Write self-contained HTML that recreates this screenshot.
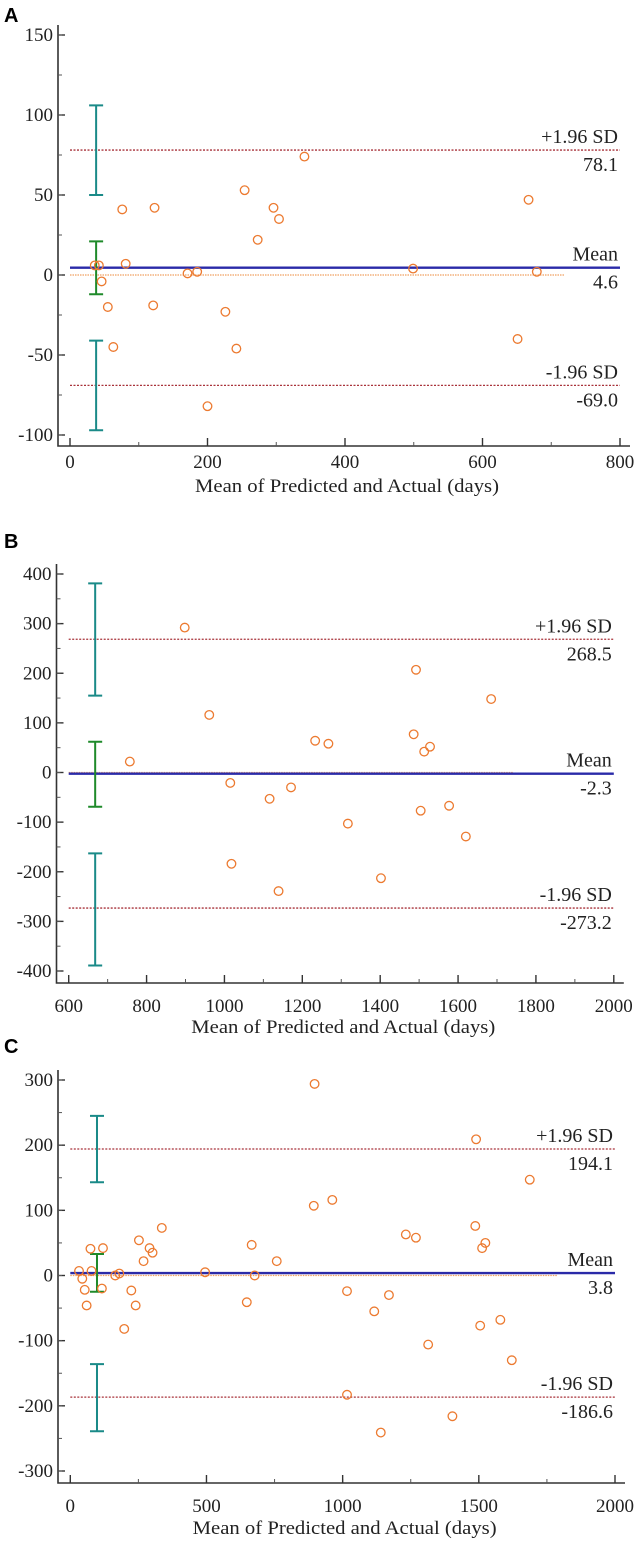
<!DOCTYPE html>
<html><head><meta charset="utf-8"><style>
html,body{margin:0;padding:0;background:#fff;}
svg{display:block;}
text{font-family:"Liberation Serif",serif;fill:#222;}
.pl{font-family:"Liberation Sans",sans-serif;font-weight:bold;fill:#000;}
</style></head><body>
<svg id="chart" width="640" height="1550" viewBox="0 0 640 1550" xmlns="http://www.w3.org/2000/svg"></svg>
<script>
// Panel A data
const aX=[36,42,46,55,63,76,81,121,123,171,185,200,226,242,254,273,296,304,341,499,651,667,679];
const aY=[6,6,-4,-20,-45,41,7,-19,42,1,2,-82,-23,-46,53,22,42,35,74,4,-40,47,2];
const aStats=[4.6,78.1,-69.0];
const aCI=[[50,106],[-12,21],[-97,-41]];
const aXTicks=[0,200,400,600,800];
const aYTicks=[150,100,50,0,-50,-100];
// Panel B data
const bX=[757,898,961,1015,1018,1116,1139,1171,1233,1267,1317,1402,1486,1492,1504,1513,1528,1577,1620,1685];
const bY=[22,292,116,-21,-184,-53,-239,-30,64,58,-103,-213,77,207,-77,42,52,-67,-129,148];
const bStats=[-2.3,268.5,-273.2];
const bCI=[[155,381],[-69,62],[-389,-163]];
const bXTicks=[600,800,1000,1200,1400,1600,1800,2000];
const bYTicks=[400,300,200,100,0,-100,-200,-300,-400];
// Panel C data
const cX=[32,44,53,60,74,78,116,120,165,180,198,224,240,252,269,291,302,336,495,648,666,677,758,894,897,962,1016,1016,1116,1140,1170,1232,1269,1314,1403,1487,1490,1505,1512,1524,1579,1621,1687];
const cY=[7,-5,-22,-46,41,7,-20,42,0,3,-82,-23,-46,54,22,42,35,73,5,-41,47,0,22,107,294,116,-24,-183,-55,-241,-30,63,58,-106,-216,76,209,-77,42,50,-68,-130,147];
const cStats=[3.8,194.1,-186.6];
const cCI=[[143,245],[-25,33],[-239,-136]];
const cXTicks=[0,500,1000,1500,2000];
const cYTicks=[300,200,100,0,-100,-200,-300];

const NS="http://www.w3.org/2000/svg";
const svg=document.getElementById('chart');
function mk(tag,at,parent){const e=document.createElementNS(NS,tag);for(const k in at)e.setAttribute(k,at[k]);(parent||svg).appendChild(e);return e;}

const panels=[
 {letter:'A',ly:22,xs:aX,ys:aY,st:aStats,ci:aCI,xt:aXTicks,yt:aYTicks,
  x0:0,x1:800,px0:70,px1:620,y0v:150,y1v:-100,py0:35,py1:435,axL:58,axT:25,axB:446,
  minorX:100,minorY:25,ciX:38,zeroEnd:720,tickY:462,titleY:492},
 {letter:'B',ly:548,xs:bX,ys:bY,st:bStats,ci:bCI,xt:bXTicks,yt:bYTicks,
  x0:600,x1:2000,px0:68.7,px1:613.8,y0v:400,y1v:-400,py0:574,py1:971,axL:56.5,axT:564,axB:983,
  minorX:100,minorY:50,ciX:668,zeroEnd:1741,tickY:1006,titleY:1033},
 {letter:'C',ly:1053,xs:cX,ys:cY,st:cStats,ci:cCI,xt:cXTicks,yt:cYTicks,
  x0:0,x1:2000,px0:70.3,px1:615,y0v:300,y1v:-300,py0:1080,py1:1471,axL:58,axT:1070,axB:1483,
  minorX:250,minorY:50,ciX:98,zeroEnd:1790,tickY:1506,titleY:1534}
];

panels.forEach(p=>{
  const g=mk('g',{});
  
  
  const sx=v=>p.px0+(v-p.x0)/(p.x1-p.x0)*(p.px1-p.px0);
  const sy=v=>p.py0+(p.y0v-v)/(p.y0v-p.y1v)*(p.py1-p.py0);
  const L=mk('text',{x:4,y:p.ly,'font-size':20,class:'pl'},g);L.textContent=p.letter;
  
  
  const ax=mk('path',{d:`M${p.axL},${p.axT}V${p.axB}H${p.px1+10}`,stroke:'#333','stroke-width':1.6,fill:'none'},g);
  
  
  p.yt.forEach(v=>{
    const y=sy(v);
    mk('line',{x1:p.axL,x2:p.axL+7,y1:y,y2:y,stroke:'#333','stroke-width':1.4},g);
    const t=mk('text',{x:p.axL-5,y:y+6,'font-size':19,'text-anchor':'end'},g);t.textContent=v;
    
    
  });
  for(let v=p.y1v;v<=p.y0v;v+=p.minorY){const y=sy(v);mk('line',{x1:p.axL,x2:p.axL+4,y1:y,y2:y,stroke:'#555','stroke-width':1},g);}
  for(let v=p.x0;v<=p.x1;v+=p.minorX){const x=sx(v);mk('line',{x1:x,x2:x,y1:p.axB,y2:p.axB-4,stroke:'#555','stroke-width':1},g);}
  p.xt.forEach(v=>{
    const x=sx(v);
    mk('line',{x1:x,x2:x,y1:p.axB,y2:p.axB-8,stroke:'#333','stroke-width':1.4},g);
    const t=mk('text',{x:x,y:p.tickY+6,'font-size':19,'text-anchor':'middle'},g);t.textContent=v;
    
    
  });
  const tt=mk('text',{x:(p.px0+p.px1)/2+2,y:p.titleY,'font-size':19,'text-anchor':'middle',textLength:304,lengthAdjust:'spacingAndGlyphs'},g);
  tt.textContent='Mean of Predicted and Actual (days)';
  
  
  const z=mk('line',{x1:sx(p.x0),x2:sx(p.zeroEnd),y1:sy(0),y2:sy(0),stroke:'#f0a060','stroke-width':1.2,'stroke-dasharray':'1.5,1'},g);
  
  
  [1,2].forEach(i=>{
    const y=sy(p.st[i]);
    const l=mk('line',{x1:sx(p.x0),x2:sx(p.x1),y1:y,y2:y,stroke:'#a8323a','stroke-width':1.3,'stroke-dasharray':'2,1.5'},g);
    
    
    const a=mk('text',{x:sx(p.x1)-2,y:y-7,'font-size':20,'text-anchor':'end'},g);a.textContent=i==1?'+1.96 SD':'-1.96 SD';
    
    
    const b=mk('text',{x:sx(p.x1)-2,y:y+21,'font-size':20,'text-anchor':'end'},g);b.textContent=p.st[i].toFixed(1);
    
    
  });
  const my=sy(p.st[0]);
  const m=mk('line',{x1:sx(p.x0),x2:sx(p.x1),y1:my,y2:my,stroke:'#2a2aa8','stroke-width':2.4},g);
  
  
  const ma=mk('text',{x:sx(p.x1)-2,y:my-7,'font-size':20,'text-anchor':'end'},g);ma.textContent='Mean';
  
  
  const mb=mk('text',{x:sx(p.x1)-2,y:my+21,'font-size':20,'text-anchor':'end'},g);mb.textContent=p.st[0].toFixed(1);
  
  
  p.ci.forEach((c,i)=>{
    const col=i==1?'#1f8a2a':'#1a8a88';
    const x=sx(p.ciX),ya=sy(c[0]),yb=sy(c[1]);
    const e=mk('path',{d:`M${x},${ya}V${yb}M${x-7},${ya}H${x+7}M${x-7},${yb}H${x+7}`,stroke:col,'stroke-width':2,fill:'none'},g);
    
    
  });
  p.xs.forEach((v,i)=>{
    const c=mk('circle',{cx:sx(v),cy:sy(p.ys[i]),r:4.3,fill:'none',stroke:'#ec7a30','stroke-width':1.3},g);
    
    
  });
});
</script>
</body></html>
